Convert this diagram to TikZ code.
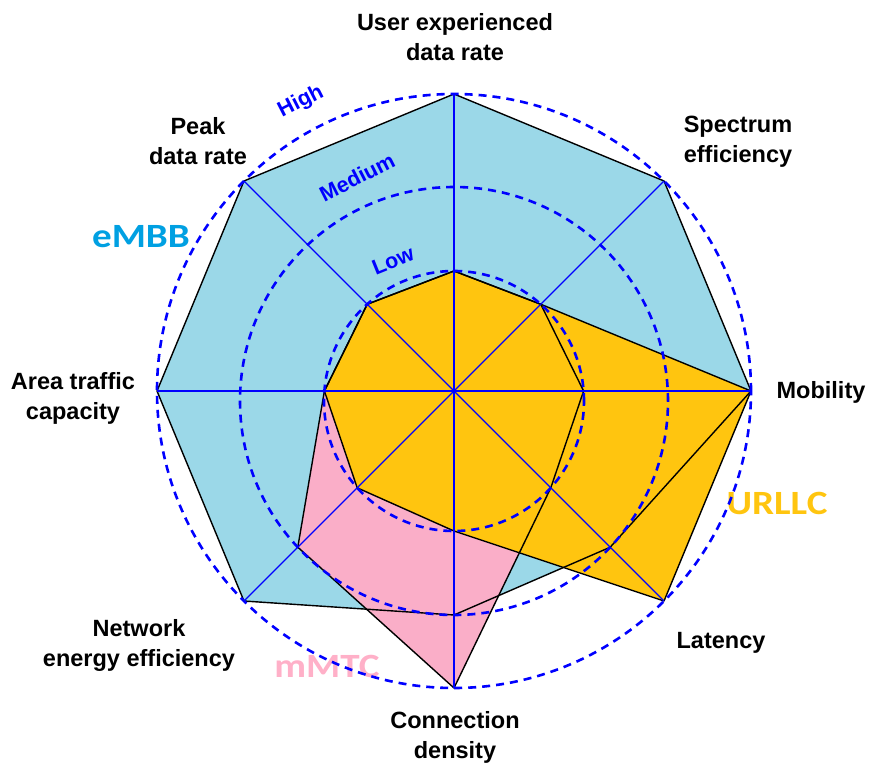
\documentclass[tikz,border=0pt]{standalone}
\usepackage{fontspec}
\setmainfont{Liberation Sans}
\newfontfamily\calibri{Carlito}

\definecolor{embbfill}{RGB}{155,216,232}
\definecolor{mmtcfill}{RGB}{250,174,200}
\definecolor{urllcfill}{RGB}{255,197,15}
\definecolor{embbtext}{RGB}{0,160,226}
\definecolor{mmtctext}{RGB}{255,176,200}
\definecolor{urllctext}{RGB}{255,197,15}

\begin{document}
\begin{tikzpicture}[x=1pt, y=1pt,
    axisline/.style={blue, line width=1.2pt},
    levelring/.style={blue, line width=2.6pt, dash pattern=on 8pt off 6pt},
    scenario/.style={black, line width=1.4pt, line join=round},
    axislabel/.style={font=\bfseries\fontsize{23.5}{30}\selectfont, align=center},
    levellabel/.style={blue, font=\bfseries\fontsize{21.5}{24}\selectfont},
    caselabel/.style={font=\calibri\bfseries\fontsize{34}{40}\selectfont, xscale=1.15}]
    \useasboundingbox (-454,-372) rectangle (415,391);

    % Levels on each axis
    \foreach \a/\lo/\me [count=\i] in {90/120/204, 45/122.7/206.8, 0/129.6/213.8, -45/136.9/220.9,
        -90/140/224, -135/136.9/220.9, 180/129.6/213.8, 135/122.7/206.8} {
        \coordinate (L\i) at (\a:\lo);
        \coordinate (M\i) at (\a:\me);
        \coordinate (H\i) at (\a:297);
    }
    \coordinate (O) at (0,0);

    % Usage scenarios
    \fill [embbfill] (H1) -- (H2) -- (H3) -- (M4) -- (M5) -- (H6) -- (H7) -- (H8) -- cycle;
    \fill [mmtcfill] (L1) -- (L2) -- (L3) -- (L4) -- (H5) -- (M6) -- (L7) -- (L8) -- cycle;
    \fill [urllcfill] (L1) -- (L2) -- (H3) -- (H4) -- (L5) -- (L6) -- (L7) -- (L8) -- cycle;
    \draw [scenario] (H1) -- (H2) -- (H3) -- (M4) -- (M5) -- (H6) -- (H7) -- (H8) -- cycle;
    \draw [scenario] (L1) -- (L2) -- (L3) -- (L4) -- (H5) -- (M6) -- (L7) -- (L8) -- cycle;
    \draw [scenario] (L1) -- (L2) -- (H3) -- (H4) -- (L5) -- (L6) -- (L7) -- (L8) -- cycle;

    % Axes
    \foreach \i in {1,...,8}
        \draw [axisline] (O) -- (H\i);

    % Scenario names
    \node [caselabel, text=embbtext] (embb) at (-313,154) {eMBB};
    \node [caselabel, text=urllctext] (urllc) at (323,-112) {URLLC};
    \node [caselabel, text=mmtctext] (mmtc) at (-127,-275) {mMTC};

    % Level rings
    \draw [levelring] (0,-10) circle [radius=130pt];
    \draw [levelring] (0,-10) circle [radius=214pt];
    \draw [levelring] (O) circle [radius=297pt];
    \node [levellabel, rotate=27] (high) at (-153,289) {High};
    \node [levellabel, rotate=27] (medium) at (-97,214) {Medium};
    \node [levellabel, rotate=22] (low) at (-61,130) {Low};

    % Key capabilities
    \node [axislabel] (user) at (1,354) {User experienced\\data rate};
    \node [axislabel] (spectrum) at (284,249) {Spectrum\\efficiency};
    \node [axislabel] (mobility) at (367,-1) {Mobility};
    \node [axislabel] (latency) at (267,-252) {Latency};
    \node [axislabel] (density) at (1,-346) {Connection\\density};
    \node [axislabel] (energy) at (-315,-254) {Network\\energy efficiency};
    \node [axislabel] (traffic) at (-381,-7) {Area traffic\\capacity};
    \node [axislabel] (peak) at (-256,250) {Peak\\data rate};
\end{tikzpicture}
\end{document}
